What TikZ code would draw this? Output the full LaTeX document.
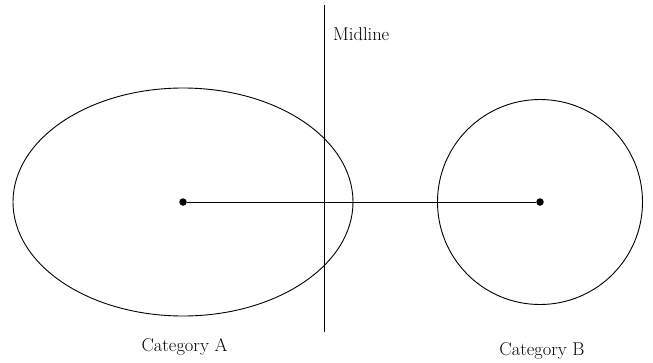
\documentclass[tikz,border=0pt]{standalone}
\usepackage{tikz}
\usetikzlibrary{positioning, shapes.geometric}

\begin{document}
\begin{tikzpicture}[
    x=1pt, y=-1pt,
    region/.style={draw, line width=0.9pt, inner sep=0pt},
    centre/.style={circle, fill, minimum size=7.5pt, inner sep=0pt},
    link/.style={line width=0.9pt},
    label/.style={font=\fontsize{18.5}{22}\selectfont, align=center, inner sep=0pt},
]
  \useasboundingbox (0,0) rectangle (653,362);

  % Categories
  \node[region, ellipse, minimum width=340pt, minimum height=228pt] (catA) at (183,202) {};
  \node[region, circle, minimum size=205pt] (catB) at (540,202) {};

  % Centres
  \node[centre] (cA) at (catA.center) {};
  \node[centre] (cB) at (catB.center) {};
  \draw[link] (cA) -- (cB);

  % Midline
  \coordinate (mtop) at (324,5);
  \coordinate (mbot) at (324,332);
  \draw[link] (mtop) -- (mbot);
  \node[label, anchor=base west] (mlab) at (333,40) {Midline};

  % Labels
  \node[label, anchor=base] (labA) at (184.5,351) {Category A};
  \node[label, anchor=base] (labB) at (542,355) {Category B};
\end{tikzpicture}
\end{document}
